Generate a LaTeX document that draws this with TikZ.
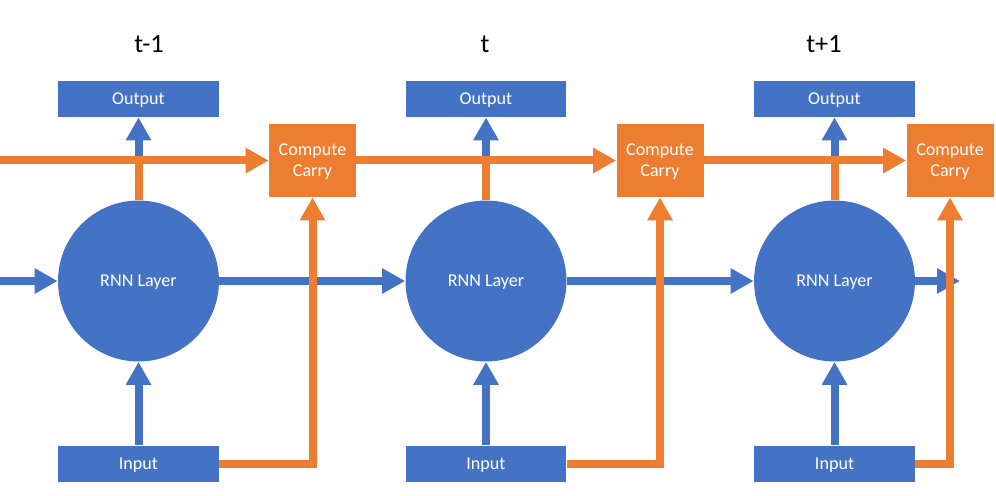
\documentclass[tikz,border=0pt]{standalone}
\usepackage{fontspec}
\setmainfont{Carlito}
\usetikzlibrary{arrows.meta}
\definecolor{rnnblue}{HTML}{4472C4}
\definecolor{carryorange}{HTML}{ED7D31}
\begin{document}
\begin{tikzpicture}[x=0.02cm,y=-0.02cm,
  bluebox/.style={fill=rnnblue,text=white,inner sep=0,text depth=0pt,minimum width=3.22cm,minimum height=0.72cm,font=\fontsize{10.3}{12}\selectfont},
  carrybox/.style={fill=carryorange,text=white,inner sep=0,text depth=0pt,minimum width=1.74cm,minimum height=1.46cm,align=center,font=\fontsize{10.3}{12}\selectfont},
  rnn/.style={circle,fill=rnnblue,text=white,inner sep=0,text depth=0pt,minimum size=3.22cm,font=\fontsize{10.3}{12}\selectfont},
  timelbl/.style={font=\fontsize{15}{18}\selectfont},
  bluearr/.style={rnnblue,line width=0.16cm,-{Triangle[length=0.46cm,width=0.48cm]}},
  orangearr/.style={carryorange,line width=0.16cm,-{Triangle[length=0.46cm,width=0.48cm]}},
  orangeline/.style={carryorange,line width=0.16cm}]
  \useasboundingbox (0,0) rectangle (996,496);

  \node (t1) at (149,44) [timelbl]{t-1};
  \node (t2) at (485,44) [timelbl]{t};
  \node (t3) at (824,44) [timelbl]{t+1};

  \node (out1) at (138.5,99) [bluebox]{Output};
  \node (out2) at (486,99) [bluebox]{Output};
  \node (out3) at (834.5,99) [bluebox]{Output};

  \node (carry1) at (312.5,160.5) [carrybox]{Compute\\Carry};
  \node (carry2) at (660,160.5) [carrybox]{Compute\\Carry};
  \node (carry3) at (950,160.5) [carrybox]{Compute\\Carry};

  \node (rnn1) at (138.5,281) [rnn]{RNN Layer};
  \node (rnn2) at (486,281) [rnn]{RNN Layer};
  \node (rnn3) at (834.5,281) [rnn]{RNN Layer};

  \node (in1) at (138.5,463.5) [bluebox]{Input};
  \node (in2) at (486,463.5) [bluebox]{Input};
  \node (in3) at (834.5,463.5) [bluebox]{Input};

  \coordinate (cin) at (0,160.5);
  \coordinate (rin) at (0,281);
  \coordinate (rend) at (960,281);

  % blue flow
  \draw[bluearr] (rin) -- (rnn1);
  \draw[bluearr] (rnn1) -- (rnn2);
  \draw[bluearr] (rnn2) -- (rnn3);
  \draw[bluearr] (rnn3) -- (rend);

  \draw[bluearr] (in1) -- (rnn1);
  \draw[bluearr] (in2) -- (rnn2);
  \draw[bluearr] (in3) -- (rnn3);

  \draw[bluearr] (rnn1) -- (out1);
  \draw[bluearr] (rnn2) -- (out2);
  \draw[bluearr] (rnn3) -- (out3);

  % carry track
  \draw[orangeline] (rnn1.north) -- (rnn1.north |- carry1.center);
  \draw[orangeline] (rnn2.north) -- (rnn2.north |- carry2.center);
  \draw[orangeline] (rnn3.north) -- (rnn3.north |- carry3.center);

  \draw[orangearr] (cin) -- (carry1);
  \draw[orangearr] (carry1) -- (carry2);
  \draw[orangearr] (carry2) -- (carry3);

  \draw[orangearr] (in1.east) -| (carry1.south);
  \draw[orangearr] (in2.east) -| (carry2.south);
  \draw[orangearr] (in3.east) -| (carry3.south);

\end{tikzpicture}
\end{document}
